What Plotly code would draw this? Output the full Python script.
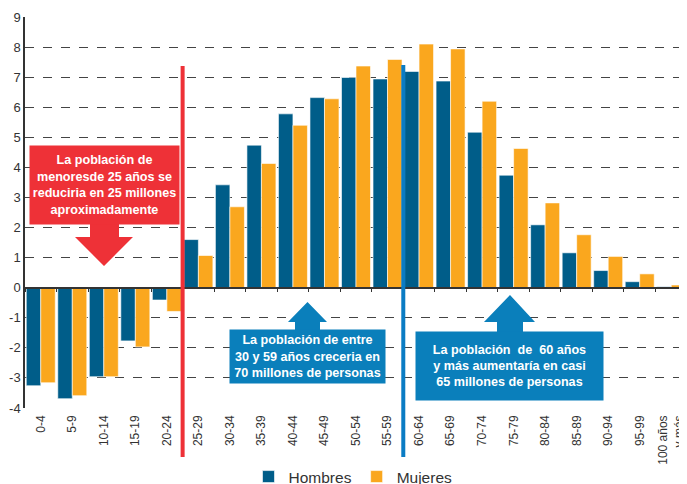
import plotly.graph_objects as go

categories = ["0-4", "5-9", "10-14", "15-19", "20-24", "25-29", "30-34", "35-39",
              "40-44", "45-49", "50-54", "55-59", "60-64", "65-69", "70-74", "75-79",
              "80-84", "85-89", "90-94", "95-99", "100 años<br>y más"]
hombres = [-3.26, -3.69, -2.96, -1.77, -0.41, 1.60, 3.42, 4.74, 5.78, 6.32, 6.99,
           6.94, 7.19, 6.87, 5.17, 3.74, 2.09, 1.16, 0.57, 0.20, 0.03]
mujeres = [-3.16, -3.59, -2.96, -1.97, -0.79, 1.07, 2.69, 4.13, 5.40, 6.28, 7.37,
           7.59, 8.10, 7.94, 6.20, 4.63, 2.82, 1.76, 1.04, 0.46, 0.09]
y_ticks = list(range(-4, 10))
y_tick_labels = [str(v) for v in y_ticks]
red_line_top = 7.37
blue_line_top = 7.40

# the page body has an 8px margin; the figure is sized so that it ends at the window edge
OFF = 8
PAGE_W, PAGE_H = 687, 484
W, H = PAGE_W - OFF, PAGE_H - OFF
# plot area in page pixels
P_LEFT, P_RIGHT, P_TOP, P_BOTTOM = 25, 687, 17, 408
ML, MR, MT, MB = P_LEFT - OFF, PAGE_W - P_RIGHT, P_TOP - OFF, PAGE_H - P_BOTTOM
PW, PH = P_RIGHT - P_LEFT, P_BOTTOM - P_TOP
YMIN, YMAX = -4, 9


def px(x):
    return (x - P_LEFT) / PW


def py(y):
    return (P_BOTTOM - y) / PH


def vy(v):
    return (v - YMIN) / (YMAX - YMIN)


C_H = "#005D89"
C_M = "#FAA71E"
C_RED = "#EE3137"
C_BLUE = "#0A7FBB"
C_BLUE_LINE = "#0A7CC4"
FONT = "Liberation Sans, Arial, sans-serif"

fig = go.Figure()
fig.add_trace(go.Bar(name="Hombres", x=categories, y=hombres, marker_color=C_H,
                     marker_line=dict(color="rgba(255,255,255,0.6)", width=1)))
fig.add_trace(go.Bar(name="Mujeres", x=categories, y=mujeres, marker_color=C_M,
                     marker_line=dict(color="rgba(255,255,255,0.6)", width=1)))
# invisible trace to carry the zero-line axis with boundary ticks
fig.add_trace(go.Scatter(x=categories, y=[0] * len(categories), xaxis="x2", yaxis="y",
                         mode="markers", marker=dict(opacity=0), showlegend=False,
                         hoverinfo="skip"))

n = len(categories)
split1 = categories.index("25-29") / n
split2 = categories.index("60-64") / n

shapes = [
    dict(type="line", xref="x domain", yref="paper", x0=split1, x1=split1,
         y0=py(457), y1=vy(red_line_top), line=dict(color=C_RED, width=4)),
    dict(type="line", xref="x domain", yref="paper", x0=split2, x1=split2,
         y0=py(457), y1=vy(blue_line_top), line=dict(color=C_BLUE_LINE, width=4)),
]


def poly(points, color):
    d = "M" + " L".join(f"{px(x):.5f},{py(y):.5f}" for x, y in points) + " Z"
    return dict(type="path", xref="paper", yref="paper", path=d, fillcolor=color,
                line=dict(width=0), layer="above")


# red down arrow
shapes.append(poly([(90, 223), (119, 223), (119, 237), (133, 237), (104, 266),
                    (75, 237), (90, 237)], C_RED))
# blue up arrow 1
shapes.append(poly([(295, 331), (320, 331), (320, 322), (327, 322), (307.5, 302),
                    (288, 322), (295, 322)], C_BLUE))
# blue up arrow 2
shapes.append(poly([(497, 333), (523, 333), (523, 322), (535, 322), (510, 295),
                    (484, 322), (497, 322)], C_BLUE))

boxfont = dict(family=FONT, size=12.6, color="white", weight="bold")
common = dict(xref="paper", yref="paper", showarrow=False, xanchor="center",
              yanchor="middle", borderpad=2, font=boxfont, align="center", valign="middle")
annotations = [
    dict(x=px(104.5), y=py(185),
         text="La población de<br>menoresde 25 años se<br>reduciria en 25 millones<br>aproximadamente",
         bgcolor=C_RED, width=145, height=74, **common),
    dict(x=px(307.5), y=py(356.5),
         text="La población de entre<br>30 y 59 años creceria en<br>70 millones de personas",
         bgcolor=C_BLUE, width=151, height=49, **common),
    dict(x=px(509.5), y=py(366),
         text="La población&nbsp; de&nbsp; 60 años<br>y más aumentaría en casi<br>65 millones de personas",
         bgcolor=C_BLUE, width=183, height=64, **common),
]

fig.update_layout(
    width=W, height=H,
    margin=dict(l=ML, r=MR, t=MT, b=MB, autoexpand=False),
    paper_bgcolor="white", plot_bgcolor="white",
    barmode="group", bargap=0.08, bargroupgap=0,
    font=dict(family=FONT, color="#333333"),
    xaxis=dict(type="category", range=[-0.5, n - 0.5], tickangle=-90,
               tickfont=dict(size=12, color="#333333"), showgrid=False,
               showline=False, ticks="", ticklabelstandoff=4, zeroline=False,
               automargin=False),
    xaxis2=dict(type="category", overlaying="x", anchor="free", position=vy(0),
                range=[-0.5, n - 0.5], tickson="boundaries", ticks="outside",
                ticklen=4, tickcolor="#333333", showline=True, linecolor="#333333",
                linewidth=1.5, showticklabels=False, showgrid=False, zeroline=False,
                automargin=False),
    yaxis=dict(range=[YMIN, YMAX], tickvals=y_ticks, ticktext=y_tick_labels,
               showgrid=True, gridcolor="#444444", griddash="dash", gridwidth=1,
               zeroline=False, showline=True, linecolor="#333333", linewidth=1.5,
               ticks="", tickfont=dict(size=13, color="#333333"), ticklabelstandoff=0,
               automargin=False),
    legend=dict(orientation="h", x=px(353), xanchor="center", y=py(477),
                yanchor="middle", font=dict(size=15.5, color="#333333"),
                bgcolor="rgba(0,0,0,0)"),
    shapes=shapes,
    annotations=annotations,
    showlegend=True,
)

fig.write_html("out.html")
